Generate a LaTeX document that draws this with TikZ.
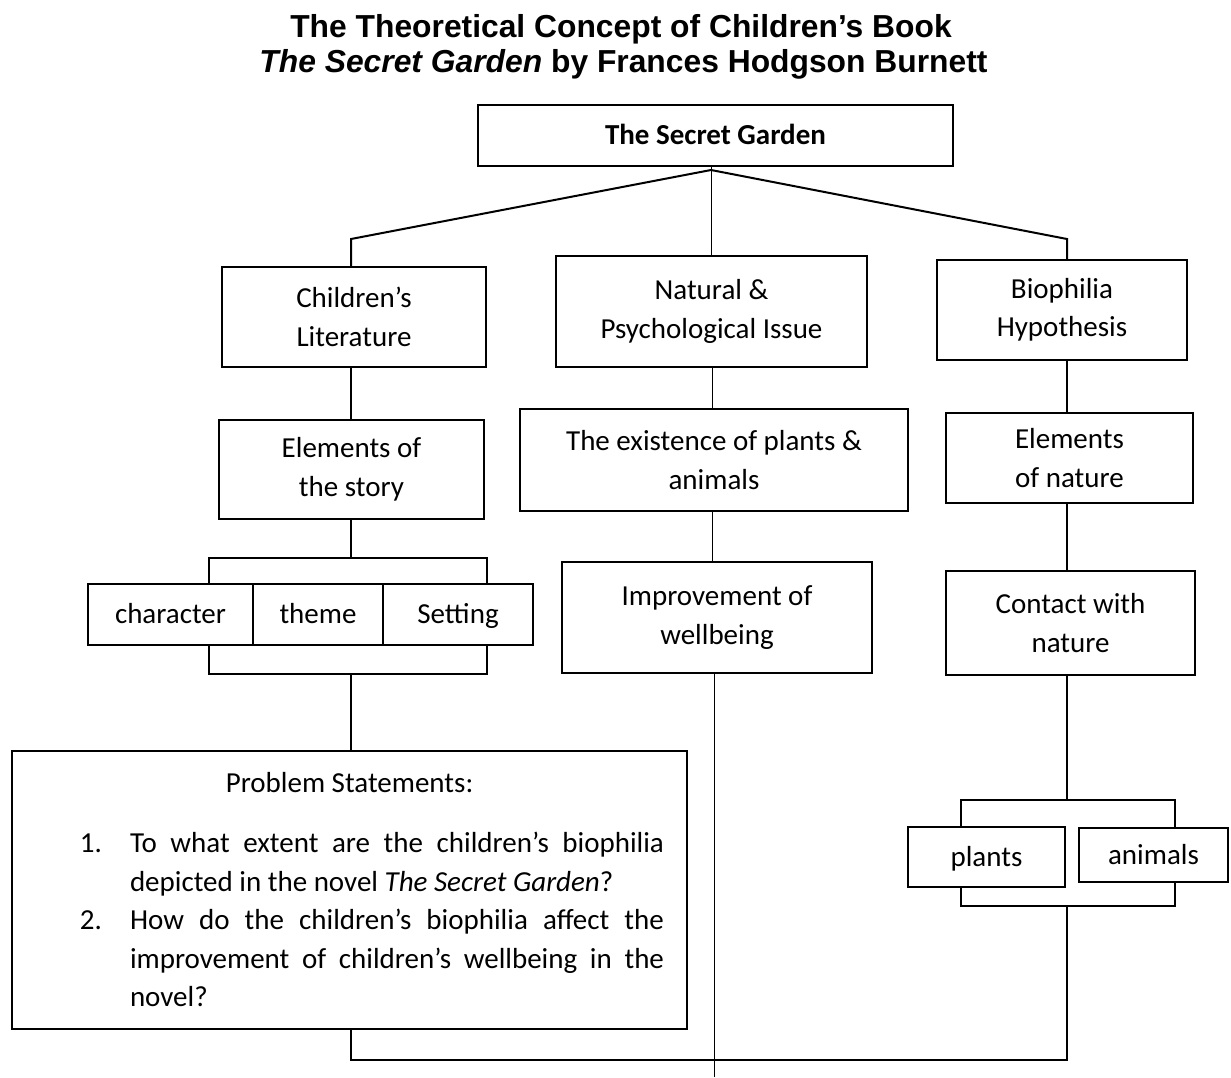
\documentclass[tikz,border=0pt]{standalone}
\usepackage{fontspec}
\setmainfont{Carlito}
\newfontfamily\titlefont{Liberation Sans}
\usepackage{tikz}
\usetikzlibrary{calc,positioning}
\newcommand{\bodyfont}{\fontsize{14.5}{19.25}\selectfont}
\newcommand{\headfont}{\titlefont\bfseries\fontsize{15.9}{17.5}\selectfont}

\begin{document}
\begin{tikzpicture}[x=0.5pt,y=-0.5pt,
  box/.style={draw,black,line width=1.1pt,inner sep=0pt,align=center,font=\bodyfont},
  oneline/.style={text height=11.4pt,text depth=2.2pt},
  link/.style={black,line width=1pt},
  thinlink/.style={black,line width=0.5pt}]
\useasboundingbox (0,0) rectangle (1231,1077);
% title
\node[anchor=base,font=\headfont] (title1) at (621,37) {The Theoretical Concept of Children’s Book};
\node[anchor=base,font=\headfont] (title2) at (623.5,72) {\textit{The Secret Garden} by Frances Hodgson Burnett};
% boxes
\node[box,oneline,minimum width=237.5pt,minimum height=30.5pt] (garden) at (715.5,135.5) {\textbf{The Secret Garden}};
\node[box,minimum width=132pt,minimum height=50pt] (childlit) at (354,317) {Children’s\\Literature};
\node[box,minimum width=155.5pt,minimum height=55.5pt] (natural) at (711.5,311.5) {Natural \&\\Psychological Issue};
\node[box,minimum width=125pt,minimum height=50pt] (biophilia) at (1062,310) {Biophilia\\Hypothesis};
\node[box,minimum width=132.5pt,minimum height=49.5pt] (story) at (351.5,469.5) {Elements of\\the story};
\node[box,minimum width=194pt,minimum height=51pt] (existence) at (714,460) {The existence of plants \&\\animals};
\node[box,minimum width=123.5pt,minimum height=45pt] (natureel) at (1069.5,458) {Elements\\of nature};
\node[box,oneline,minimum width=82.5pt,minimum height=30.5pt] (character) at (170.5,614.5) {character};
\node[box,oneline,minimum width=65pt,minimum height=30.5pt] (theme) at (318,614.5) {theme};
\node[box,oneline,minimum width=75pt,minimum height=30.5pt] (setting) at (458,614.5) {Setting};
\node[box,minimum width=155pt,minimum height=55.5pt] (improve) at (717,617.5) {Improvement of\\wellbeing};
\node[box,minimum width=124.5pt,minimum height=52pt] (contact) at (1070.5,623) {Contact with\\nature};
\node[box,oneline,minimum width=78.5pt,minimum height=30pt] (plants) at (986.5,857) {plants};
\node[box,oneline,minimum width=74.5pt,minimum height=27pt] (animals) at (1153.5,855) {animals};
\node[box,align=justify,text width=337.5pt,minimum height=139pt] (problem) at (349.5,890) {%
  {\centering Problem Statements:\par}\vspace{10.75pt}
  \hyphenpenalty=10000
  \begin{list}{}{\leftmargin=59pt\rightmargin=11.5pt\labelwidth=30pt\labelsep=14pt
    \topsep=0pt\partopsep=0pt\itemsep=0pt\parsep=0pt}
  \item[1.] To what extent are the children’s biophilia\linebreak depicted in the novel \textit{The Secret Garden}?
  \item[2.] How do the children’s biophilia affect the\linebreak improvement of children’s wellbeing in the\linebreak novel?
  \end{list}};
% joints
\coordinate (apex) at (711,170);
\coordinate (lcorner) at (351,239);
\coordinate (rcorner) at (1067,239);
\coordinate (mcol) at (712.5,0);
\coordinate (mend) at (714,1077);
\coordinate (sbl) at (209,558);
\coordinate (sbr) at (487,558);
\coordinate (sbl2) at (209,674);
\coordinate (sbr2) at (487,674);
\coordinate (rbl) at (961,800);
\coordinate (rbr) at (1175,800);
\coordinate (rbl2) at (961,906);
\coordinate (rbr2) at (1175,906);
\coordinate (bl) at (351,1060);
\coordinate (br) at (1067,1060);
% connectors
\draw[link] (childlit.north -| lcorner) -- (lcorner) -- (apex) -- (rcorner) -- (biophilia.north -| rcorner);
\draw[thinlink] (garden.south -| apex) -- (natural.north -| apex);
\draw[link] (childlit.south -| lcorner) -- (story.north -| lcorner);
\draw[link] (story.south -| lcorner) -- (lcorner |- sbl);
\draw[link] (character.north -| sbl) -- (sbl) -- (sbr) -- (setting.north -| sbr);
\draw[link] (character.south -| sbl2) -- (sbl2) -- (sbr2) -- (setting.south -| sbr2);
\draw[link] (lcorner |- sbl2) -- (problem.north -| lcorner);
\draw[thinlink] (natural.south -| mcol) -- (existence.north -| mcol);
\draw[thinlink] (existence.south -| mcol) -- (improve.north -| mcol);
\draw[thinlink] (improve.south -| mend) -- (mend);
\draw[link] (biophilia.south -| rcorner) -- (natureel.north -| rcorner);
\draw[link] (natureel.south -| rcorner) -- (contact.north -| rcorner);
\draw[link] (contact.south -| rcorner) -- (rcorner |- rbl);
\draw[link] (plants.north -| rbl) -- (rbl) -- (rbr) -- (animals.north -| rbr);
\draw[link] (plants.south -| rbl2) -- (rbl2) -- (rbr2) -- (animals.south -| rbr2);
\draw[link] (rcorner |- rbl2) -- (br) -- (bl) -- (problem.south -| lcorner);
\end{tikzpicture}
\end{document}
